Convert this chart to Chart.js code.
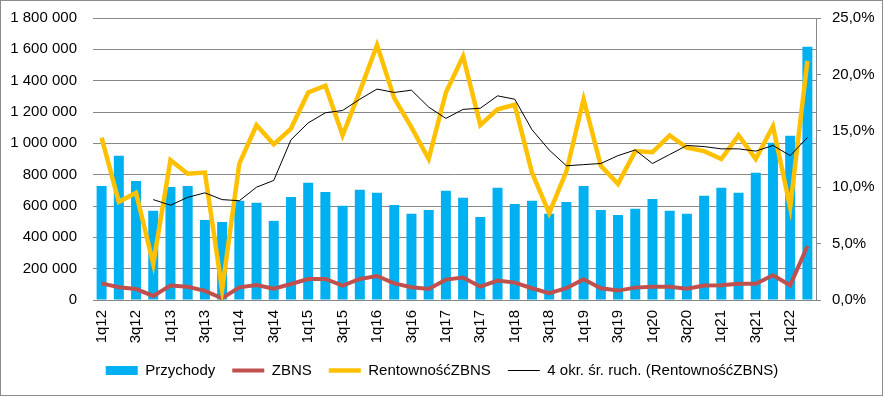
<!DOCTYPE html>
<html lang="pl">
<head>
    <meta charset="UTF-8">
    <title>Przychody i ZBNS</title>
    <script src="https://cdn.jsdelivr.net/npm/chart.js"></script>
    <style>
        body { margin: 0; background: #fff; }
        .box { position: relative; width: 884px; height: 397px; }
        .frame { position: absolute; left: 0; top: 0; width: 883px; height: 396px; box-sizing: border-box; border: 1px solid #8c8c8c; pointer-events: none; }
    </style>
</head>
<body>
    <div class="box">
        <canvas id="chart" width="884" height="397"></canvas>
        <div class="frame"></div>
    </div>

    <script>
        // kwartaly 1q12 .. 2q22
        const kwartaly = ['1q12','2q12','3q12','4q12','1q13','2q13','3q13','4q13','1q14','2q14','3q14','4q14',
            '1q15','2q15','3q15','4q15','1q16','2q16','3q16','4q16','1q17','2q17','3q17','4q17',
            '1q18','2q18','3q18','4q18','1q19','2q19','3q19','4q19','1q20','2q20','3q20','4q20',
            '1q21','2q21','3q21','4q21','1q22','2q22'];

        const przychody = [728000, 920000, 760000, 569000, 722000, 728000, 511000, 498000, 633000, 620000,
            505000, 658000, 748000, 690000, 601000, 703000, 684000, 607000, 550000, 575000,
            697000, 652000, 530000, 716000, 613000, 633000, 550000, 626000, 728000, 575000,
            543000, 582000, 645000, 569000, 550000, 665000, 716000, 684000, 812000, 1003000,
            1048000, 1617000];

        const zbns = [106000, 81000, 70000, 26000, 92000, 85000, 58000, 11000, 81000, 96000,
            72000, 102000, 134000, 134000, 92000, 134000, 153000, 106000, 81000, 70000,
            130000, 143000, 85000, 124000, 111000, 75000, 43000, 75000, 132000, 75000,
            60000, 79000, 85000, 85000, 72000, 92000, 94000, 104000, 104000, 158000,
            94000, 345000];

        const rentownosc = [14.4, 8.7, 9.5, 3.2, 12.4, 11.2, 11.3, 0.9, 12.1, 15.5,
            13.8, 15.2, 18.4, 19.0, 14.6, 18.5, 22.6, 17.9, 15.3, 12.5,
            18.4, 21.6, 15.5, 16.9, 17.3, 11.3, 7.7, 11.4, 17.8, 11.9,
            10.3, 13.2, 13.1, 14.6, 13.5, 13.2, 12.5, 14.6, 12.5, 15.4,
            8.2, 21.2];

        // 4 okr. sr. ruch.
        const sredniaRuch = [null, null, null, 8.9, 8.4, 9.1, 9.5, 8.9, 8.8, 10.0,
            10.6, 14.2, 15.7, 16.6, 16.8, 17.8, 18.7, 18.4, 18.6, 17.1,
            16.1, 16.9, 17.0, 18.1, 17.8, 15.1, 13.3, 11.9, 12.0, 12.1,
            12.8, 13.3, 12.1, 12.9, 13.7, 13.6, 13.4, 13.4, 13.2, 13.7,
            12.8, 14.4];

        const lewaOs = [0, 1800000, 200000];   // min, max, krok
        const prawaOs = [0, 25, 5];

        const szary = '#888888';
        const czcionka = { family: "'Liberation Sans', Arial, sans-serif", size: 15 };

        Chart.defaults.font = czcionka;
        Chart.defaults.color = '#000';

        const spacje = v => String(v).replace(/\B(?=(\d{3})+(?!\d))/g, ' ');

        // szerokosc osi na sztywno, bez dodatkowego marginesu u gory
        const szerokoscOsi = w => s => { s.width = w; s.paddingTop = 0; s.paddingBottom = 0; };

        new Chart(document.getElementById('chart'), {
            type: 'bar',
            data: {
                labels: kwartaly,
                datasets: [
                    { type: 'bar', label: 'Przychody', data: przychody, yAxisID: 'y',
                      backgroundColor: '#00B0F0', barPercentage: 0.58, categoryPercentage: 1.0,
                      pointStyle: 'rect', order: 4 },
                    { type: 'line', label: 'ZBNS', data: zbns, yAxisID: 'y',
                      borderColor: '#C0504D', backgroundColor: '#C0504D', borderWidth: 4,
                      pointRadius: 0, tension: 0, pointStyle: 'line', order: 3 },
                    { type: 'line', label: 'RentownośćZBNS', data: rentownosc, yAxisID: 'y1',
                      borderColor: '#FFC000', backgroundColor: '#FFC000', borderWidth: 4.5,
                      pointRadius: 0, tension: 0, pointStyle: 'line', order: 2 },
                    { type: 'line', label: '4 okr. śr. ruch. (RentownośćZBNS)', data: sredniaRuch, yAxisID: 'y1',
                      borderColor: '#000', backgroundColor: '#000', borderWidth: 1,
                      pointRadius: 0, tension: 0, pointStyle: 'line', order: 1 }
                ]
            },
            options: {
                responsive: false,
                animation: false,
                layout: { padding: { top: 18, bottom: 9, left: 0, right: 0 } },
                plugins: {
                    tooltip: { enabled: false },
                    legend: {
                        position: 'bottom',
                        labels: {
                            usePointStyle: true, pointStyleWidth: 32, boxHeight: 9, padding: 17, color: '#000',
                            sort: (a, b) => a.datasetIndex - b.datasetIndex
                        }
                    }
                },
                scales: {
                    x: {
                        grid: { display: false, drawTicks: false },
                        border: { display: true, color: szary },
                        ticks: {
                            autoSkip: false, minRotation: 90, maxRotation: 90, padding: 10,
                            callback: function (v, i) { return i % 2 === 0 ? this.getLabelForValue(v) : ''; }
                        },
                        afterFit: s => { s.height = 46; }
                    },
                    y: {
                        position: 'left',
                        min: lewaOs[0], max: lewaOs[1],
                        grid: { color: szary, drawTicks: false },
                        border: { display: false },
                        ticks: { stepSize: lewaOs[2], padding: 16, callback: v => spacje(v) },
                        afterFit: szerokoscOsi(93)
                    },
                    y1: {
                        position: 'right',
                        min: prawaOs[0], max: prawaOs[1],
                        grid: { drawOnChartArea: false, color: szary, tickLength: 5 },
                        border: { display: true, color: szary },
                        ticks: { stepSize: prawaOs[2], padding: 11, callback: v => v.toFixed(1).replace('.', ',') + '%' },
                        afterFit: szerokoscOsi(68)
                    }
                }
            }
        });
    </script>
</body>
</html>
